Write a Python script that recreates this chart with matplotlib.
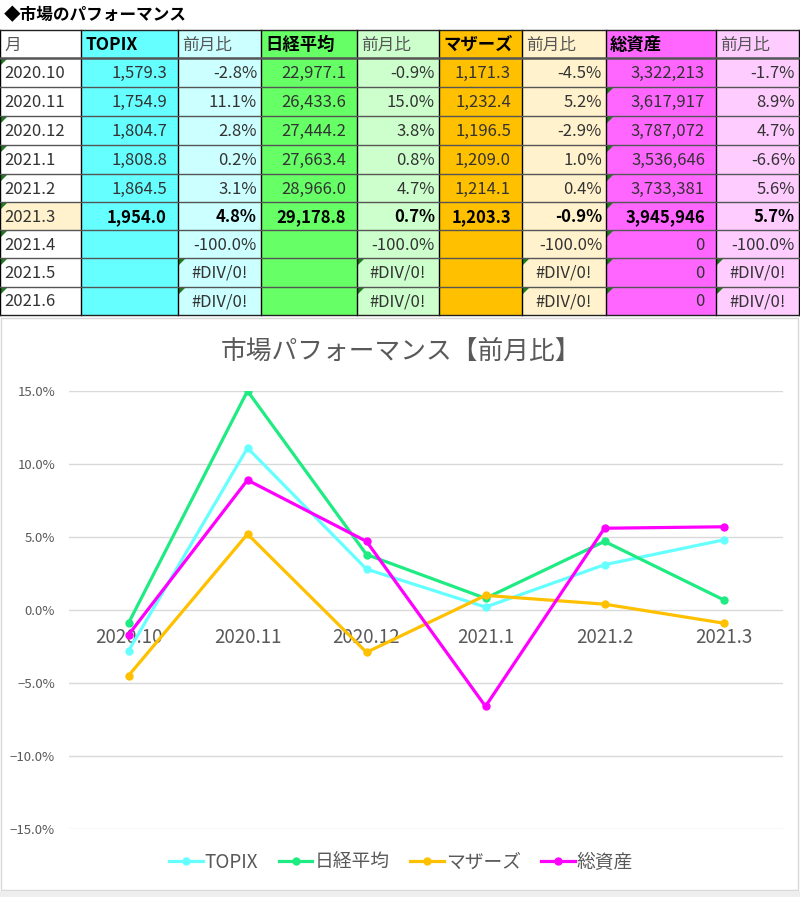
import matplotlib.pyplot as plt
from matplotlib.patches import Rectangle, Polygon
from matplotlib.ticker import PercentFormatter

plt.rcParams['font.family'] = ['Noto Sans CJK JP', 'DejaVu Sans']

# Table data
months = ['2020.10', '2020.11', '2020.12', '2021.1', '2021.2', '2021.3', '2021.4', '2021.5', '2021.6']
headers = ['月', 'TOPIX', '前月比', '日経平均', '前月比', 'マザーズ', '前月比', '総資産', '前月比']
topix = ['1,579.3', '1,754.9', '1,804.7', '1,808.8', '1,864.5', '1,954.0', '', '', '']
topix_chg = ['-2.8%', '11.1%', '2.8%', '0.2%', '3.1%', '4.8%', '-100.0%', '#DIV/0!', '#DIV/0!']
nikkei = ['22,977.1', '26,433.6', '27,444.2', '27,663.4', '28,966.0', '29,178.8', '', '', '']
nikkei_chg = ['-0.9%', '15.0%', '3.8%', '0.8%', '4.7%', '0.7%', '-100.0%', '#DIV/0!', '#DIV/0!']
mothers = ['1,171.3', '1,232.4', '1,196.5', '1,209.0', '1,214.1', '1,203.3', '', '', '']
mothers_chg = ['-4.5%', '5.2%', '-2.9%', '1.0%', '0.4%', '-0.9%', '-100.0%', '#DIV/0!', '#DIV/0!']
assets = ['3,322,213', '3,617,917', '3,787,072', '3,536,646', '3,733,381', '3,945,946', '0', '0', '0']
assets_chg = ['-1.7%', '8.9%', '4.7%', '-6.6%', '5.6%', '5.7%', '-100.0%', '#DIV/0!', '#DIV/0!']

# Chart data (month-over-month, %)
chart_months = ['2020.10', '2020.11', '2020.12', '2021.1', '2021.2', '2021.3']
topix_pct = [-2.8, 11.1, 2.8, 0.2, 3.1, 4.8]
nikkei_pct = [-0.9, 15.0, 3.8, 0.8, 4.7, 0.7]
mothers_pct = [-4.5, 5.2, -2.9, 1.0, 0.4, -0.9]
assets_pct = [-1.7, 8.9, 4.7, -6.6, 5.6, 5.7]

W, H = 800, 897
fig = plt.figure(figsize=(W / 100, H / 100), dpi=100)

# full-figure pixel axes for the table
tab = fig.add_axes([0, 0, 1, 1])
tab.set_xlim(0, W)
tab.set_ylim(H, 0)
tab.axis('off')

tab.text(4, 15, '◆市場のパフォーマンス', fontsize=12, fontweight='bold', va='center', ha='left')

col_x = [0, 81, 178, 261, 357, 439, 522, 606, 716, 799]
row_y = [30, 58, 87, 116, 145, 174, 202, 230, 258, 287, 315]
col_colors = ['white', '#66FFFF', '#CCFFFF', '#66FF66', '#CCFFCC', '#FFC000', '#FFF2CC', '#FF66FF', '#FFCCFF']
columns = [months, topix, topix_chg, nikkei, nikkei_chg, mothers, mothers_chg, assets, assets_chg]
bold_header = [False, True, False, True, False, True, False, True, False]

for c in range(9):
    x0, x1 = col_x[c], col_x[c + 1]
    for r in range(10):
        y0, y1 = row_y[r], row_y[r + 1]
        fc = col_colors[c]
        if c == 0 and r == 6:
            fc = '#FFF2CC'
        tab.add_patch(Rectangle((x0, y0), x1 - x0, y1 - y0, facecolor=fc, edgecolor='none'))
        yc = (y0 + y1) / 2 + 1
        if r == 0:
            tab.text(x0 + 4, yc, headers[c], fontsize=12.5 if bold_header[c] else 12, va='center', ha='left',
                     fontweight='bold' if bold_header[c] else 'normal',
                     color='black' if bold_header[c] else '#555555')
            continue
        s = columns[c][r - 1]
        bold = (r == 6 and c > 0)
        color = 'black' if bold else '#333333'
        pad = 4 if c % 2 == 0 else 11
        if c == 0:
            tab.text(x0 + 4, yc, s, fontsize=12, va='center', ha='left', color='#333333')
        elif s.startswith('#'):
            tab.text((x0 + x1) / 2, yc, s, fontsize=12, va='center', ha='center', color=color)
        else:
            tab.text(x1 - pad, yc, s, fontsize=12, va='center', ha='right', color=color,
                     fontweight='bold' if bold else 'normal')
        # green error indicators
        flag = (c == 0 and r != 2) or (c == 7 and r >= 2) or (c in (2, 4, 6, 8) and r >= 8)
        if flag:
            tab.add_patch(Polygon([(x0 + 1, y0 + 1), (x0 + 7, y0 + 1), (x0 + 1, y0 + 7)],
                                  closed=True, facecolor='#1E7B1E', edgecolor='none'))

for x in col_x:
    tab.plot([x, x], [row_y[0], row_y[-1]], color='black', lw=1)
for i, y in enumerate(row_y):
    tab.plot([0, col_x[-1]], [y, y], color='#222222' if i in (0, len(row_y) - 1) else '#555555',
             lw=1.8 if i == 1 else 1)

# chart frame
tab.add_patch(Rectangle((1, 318), 797, 572, facecolor='white', edgecolor='#D9D9D9', lw=1))
tab.add_patch(Rectangle((0, 891), W, 6, facecolor='#EEEEEE', edgecolor='none'))
tab.text(401, 352, '市場パフォーマンス【前月比】', fontsize=18.5, color='#595959', ha='center', va='center')

# line chart
l, r_, t, b = 69, 783, 391, 829
ax = fig.add_axes([l / W, 1 - b / H, (r_ - l) / W, (b - t) / H])
ax.patch.set_alpha(0)
x = range(len(chart_months))
series = [
    ('TOPIX', topix_pct, '#66FFFF'),
    ('日経平均', nikkei_pct, '#1EEB82'),
    ('マザーズ', mothers_pct, '#FFC000'),
    ('総資産', assets_pct, '#FF00FF'),
]
for name, vals, col in series:
    ax.plot(x, vals, color=col, lw=2.3, marker='o', markersize=5, label=name)

ax.set_xlim(-0.5, len(chart_months) - 0.5)
ax.set_ylim(-15, 15)
ax.set_yticks([-15, -10, -5, 0, 5, 10, 15])
ax.yaxis.set_major_formatter(PercentFormatter(decimals=1))
ax.grid(axis='y', color='#D9D9D9', lw=1)
ax.set_axisbelow(True)
for s in ['top', 'right', 'left']:
    ax.spines[s].set_visible(False)
ax.spines['bottom'].set_position(('data', 0))
ax.spines['bottom'].set_visible(False)
ax.set_xticks(list(x))
ax.set_xticklabels(chart_months, fontsize=13.5, color='#595959')
ax.tick_params(axis='x', length=0, pad=12)
ax.tick_params(axis='y', length=0, labelsize=9.5, labelcolor='#595959', pad=10)

ax.legend(loc='center', bbox_to_anchor=(401 / W, 1 - 862 / H), bbox_transform=fig.transFigure,
          ncol=4, frameon=False, fontsize=13.5, labelcolor='#595959', handlelength=1.8,
          handletextpad=0.1, columnspacing=1.1)

plt.savefig('out.png', dpi=100)
